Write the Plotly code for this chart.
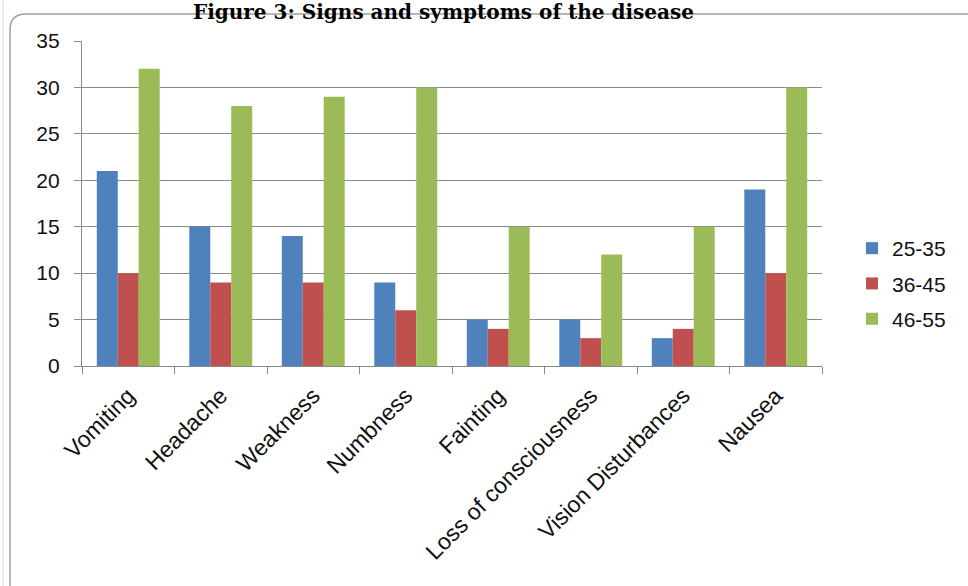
import plotly.graph_objects as go

categories = ["Vomiting", "Headache", "Weakness", "Numbness", "Fainting",
              "Loss of consciousness", "Vision Disturbances", "Nausea"]
s_25_35 = [21, 15, 14, 9, 5, 5, 3, 19]
s_36_45 = [10, 9, 9, 6, 4, 3, 4, 10]
s_46_55 = [32, 28, 29, 30, 15, 12, 15, 30]
series_names = ["25-35", "36-45", "46-55"]
colors = ["#4F81BD", "#C0504D", "#9BBB59"]
title_text = "Figure 3: Signs and symptoms of the disease"

W, H = 968, 586
L, R, T, B = 82, 822, 41, 366

def px(x):
    return (x - L) / (R - L)

def py(y):
    return (B - y) / (B - T)

fig = go.Figure()
for name, vals, c in zip(series_names, [s_25_35, s_36_45, s_46_55], colors):
    fig.add_trace(go.Bar(x=categories, y=vals, name=name, marker_color=c,
                         marker_line_width=0, legendgroup=name))

font = "Liberation Sans"
fig.update_layout(
    width=W, height=H,
    margin=dict(l=L, r=W - R, t=T, b=H - B, autoexpand=False),
    paper_bgcolor="white", plot_bgcolor="white",
    barmode="group", bargap=0.32, bargroupgap=0,
    showlegend=True,
    legend=dict(x=px(852), y=py(228), xanchor="left", yanchor="top",
                font=dict(family=font, size=21, color="#111"),
                tracegroupgap=5, itemwidth=30),
    font=dict(family=font, color="#111"),
)
fig.update_yaxes(range=[0, 35], dtick=5, showgrid=True, gridcolor="#8a8a8a",
                 gridwidth=1.3, showline=True, linecolor="#8a8a8a", linewidth=1.3,
                 ticks="outside", ticklen=7, tickcolor="#8a8a8a",
                 ticklabelstandoff=10,
                 tickfont=dict(family=font, size=21, color="#111"), zeroline=False)
fig.update_xaxes(showline=True, linecolor="#8a8a8a", linewidth=1.3,
                 ticks="outside", ticklen=7, tickcolor="#8a8a8a",
                 tickson="boundaries", tickangle=-45, ticklabelstandoff=6,
                 tickfont=dict(family=font, size=23, color="#111"))

# chart border (rounded)
x0, y0, x1, y1, r = px(10), py(14), px(1000), py(620), 16
rx, ry = r / (R - L), r / (B - T)
path = (f"M {x0},{y1} L {x0},{y0 - ry} Q {x0},{y0} {x0 + rx},{y0} "
        f"L {x1},{y0}")
fig.add_shape(type="path", path=path, xref="paper", yref="paper",
              line=dict(color="#a0a0a0", width=1.5), layer="above")
fig.add_shape(type="line", xref="paper", yref="paper", x0=px(3), x1=px(3),
              y0=py(0), y1=py(586), line=dict(color="#d8d8d8", width=1))

fig.add_annotation(text="<b>" + title_text + "</b>", xref="paper", yref="paper",
                   x=px(443), y=py(-1), xanchor="center", yanchor="top",
                   showarrow=False, borderpad=0,
                   font=dict(family="DejaVu Serif", size=20, color="#000"))

fig.write_html("out.html")
